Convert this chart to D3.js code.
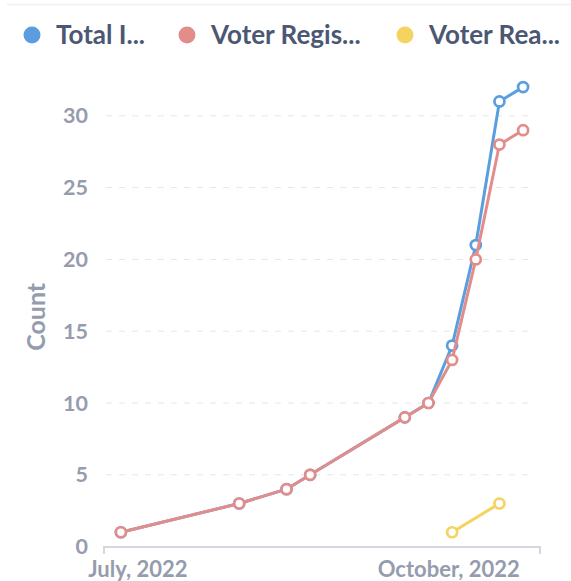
<!DOCTYPE html>
<html>
<head>
<meta charset="utf-8">
<script src="https://cdn.jsdelivr.net/npm/d3@7"></script>
<style>
  html, body { margin: 0; padding: 0; background: #fff; }
  svg { display: block; font-family: Lato, "Open Sans", sans-serif; }
</style>
</head>
<body>
<svg id="chart" width="571" height="581"></svg>
<script>
const dates = ["2022-06-26", "2022-07-31", "2022-08-14", "2022-08-21", "2022-09-18",
               "2022-09-25", "2022-10-02", "2022-10-09", "2022-10-16", "2022-10-23"];
const totalValues = [1, 3, 4, 5, 9, 10, 14, 21, 31, 32];
const registrationValues = [1, 3, 4, 5, 9, 10, 13, 20, 28, 29];
const readyDates = ["2022-10-02", "2022-10-16"];
const readyValues = [1, 3];
const seriesNames = ["Total I...", "Voter Regis...", "Voter Rea..."];
const seriesColors = ["#5a9ee0", "#e38d8b", "#f4d35e"];
const yTicks = [0, 5, 10, 15, 20, 25, 30];
const xTickDates = ["2022-07-01", "2022-10-01"];
const xTickLabels = ["July, 2022", "October, 2022"];
const yLabel = "Count";

const parse = d3.utcParse("%Y-%m-%d");
const svg = d3.select("#chart");

// faint top rule
svg.append("line").attr("x1", 7).attr("x2", 571).attr("y1", 4.5).attr("y2", 4.5)
  .attr("stroke", "#f3f3f3").attr("stroke-width", 2);

const x = d3.scaleUtc()
  .domain([d3.utcDay.offset(parse(dates[0]), -5), d3.utcDay.offset(parse(dates[dates.length - 1]), 5)])
  .range([104, 540]);
const y = d3.scaleLinear().domain([0, 32]).range([546.6, 87.1]);

// grid
svg.append("g").selectAll("line").data(yTicks.filter(d => d > 0)).join("line")
  .attr("x1", 106).attr("x2", 532)
  .attr("y1", d => y(d)).attr("y2", d => y(d))
  .attr("stroke", "#e4e6ea").attr("stroke-width", 1).attr("stroke-dasharray", "6,7");

// y tick labels
svg.append("g").selectAll("text").data(yTicks).join("text")
  .attr("x", 88).attr("y", d => y(d)).attr("dy", "0.35em")
  .attr("text-anchor", "end")
  .attr("font-size", 21.5).attr("font-weight", 700).attr("fill", "#959cad")
  .text(d => d);

// y label
svg.append("text")
  .attr("transform", `translate(45, ${y(16)}) rotate(-90)`)
  .attr("text-anchor", "middle")
  .attr("font-size", 25).attr("font-weight", 700).attr("fill", "#959cad")
  .text(yLabel);

// x axis
const xAxisY = 547;
svg.append("path")
  .attr("d", `M${x.range()[0]},${xAxisY + 7}V${xAxisY}H${x.range()[1]}V${xAxisY + 7}`)
  .attr("fill", "none").attr("stroke", "#d4d7dd").attr("stroke-width", 2);
svg.append("g").selectAll("text").data(xTickDates).join("text")
  .attr("x", d => x(parse(d))).attr("y", 577)
  .attr("text-anchor", "middle")
  .attr("font-size", 22).attr("font-weight", 700).attr("fill", "#959cad")
  .text((d, i) => xTickLabels[i]);

// series
const series = [
  { dates: dates, values: totalValues, color: seriesColors[0] },
  { dates: dates, values: registrationValues, color: seriesColors[1] },
  { dates: readyDates, values: readyValues, color: seriesColors[2] }
];
const line = d3.line().x(d => x(d.date)).y(d => y(d.value));
series.forEach(s => {
  const pts = s.dates.map((d, i) => ({ date: parse(d), value: s.values[i] }));
  const g = svg.append("g");
  g.append("path").datum(pts).attr("d", line)
    .attr("fill", "none").attr("stroke", s.color).attr("stroke-width", 3)
    .attr("stroke-linejoin", "round");
  g.selectAll("circle").data(pts).join("circle")
    .attr("cx", d => x(d.date)).attr("cy", d => y(d.value)).attr("r", 5)
    .attr("fill", "#fff").attr("stroke", s.color).attr("stroke-width", 2.7);
});

// legend
const legendX = [32, 187, 405];
const lg = svg.append("g");
seriesNames.forEach((name, i) => {
  lg.append("circle").attr("cx", legendX[i]).attr("cy", 35).attr("r", 8.5).attr("fill", seriesColors[i]);
  lg.append("text").attr("x", legendX[i] + 24).attr("y", 35).attr("dy", "0.36em")
    .attr("font-size", 26).attr("font-weight", 700).attr("fill", "#4c5773")
    .text(name);
});
</script>
</body>
</html>
